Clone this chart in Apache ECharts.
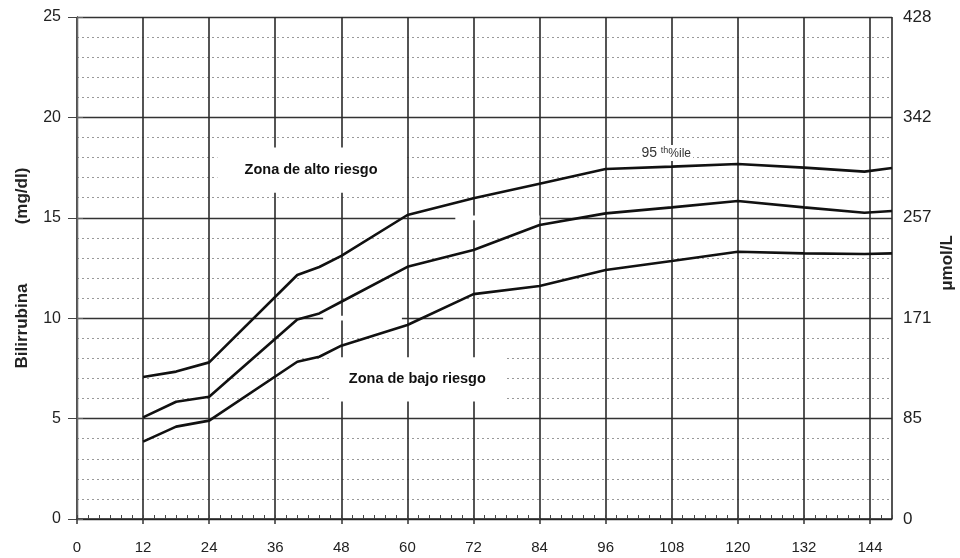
<!DOCTYPE html>
<html>
<head>
<meta charset="utf-8">
<script src="https://cdn.jsdelivr.net/npm/echarts@6/dist/echarts.min.js"></script>
<style>
  html, body { margin: 0; padding: 0; background: #fff; }
  #chart { width: 960px; height: 558px; }
</style>
</head>
<body>
<div id="chart"></div>
<script>
// Hours of life (x values of the curve vertices)
const hours = [12, 18, 24, 40, 44, 48, 60, 72, 84, 96, 108, 120, 132, 143, 148];
// Bilirubin (mg/dl) for the three percentile curves
const p95 = [7.07, 7.34, 7.8, 12.15, 12.55, 13.1, 15.14, 15.97, 16.7, 17.43, 17.55, 17.68, 17.5, 17.3, 17.48];
const p75 = [5.06, 5.84, 6.09, 9.94, 10.24, 10.82, 12.56, 13.4, 14.64, 15.22, 15.52, 15.84, 15.52, 15.25, 15.34];
const p40 = [3.85, 4.6, 4.9, 7.83, 8.08, 8.63, 9.66, 11.2, 11.6, 12.4, 12.85, 13.31, 13.23, 13.2, 13.23];
// Right-axis tick labels (µmol/L), one per left-axis major tick
const rightLabels = ['0', '85', '171', '257', '342', '428'];
// Text annotations
const zoneHigh = 'Zona de alto riesgo';
const zoneLow = 'Zona de bajo riesgo';
const pctLabel = '{a|95 }{b|th}{c|%ile}';
const yNameMain = 'Bilirrubina';
const yNameUnit = '(mg/dl)';
const yNameRight = 'μmol/L';

const FONT = 'Liberation Sans, Arial, sans-serif';
const chart = echarts.init(document.getElementById('chart'), null, { renderer: 'canvas' });

function lineSeries(vals, extra) {
  return Object.assign({
    type: 'line',
    xAxisIndex: 0,
    yAxisIndex: 0,
    data: hours.map((h, i) => [h, vals[i]]),
    symbol: 'none',
    silent: true,
    z: 5,
    lineStyle: { color: '#111', width: 2.6 }
  }, extra || {});
}

chart.setOption({
  animation: false,
  backgroundColor: '#fff',
  textStyle: { fontFamily: FONT },
  grid: { left: 77, right: 68, top: 17, bottom: 39 },
  xAxis: [
    {
      type: 'value', min: 0, max: 148, interval: 12, position: 'bottom',
      axisLine: { show: true, onZero: false, lineStyle: { color: '#222', width: 1.5 } },
      axisTick: { show: true, inside: false, length: 5, lineStyle: { color: '#333', width: 1.5 } },
      axisLabel: {
        showMaxLabel: false, margin: 21, fontSize: 15, color: '#222', fontFamily: FONT,
        formatter: v => (v % 12 === 0 ? String(v) : '')
      },
      splitLine: { show: true, lineStyle: { color: '#2a2a2a', width: 1.6 } }
    },
    {
      type: 'value', min: 0, max: 148, interval: 2, position: 'bottom',
      axisLine: { show: false, onZero: false },
      axisTick: { show: true, inside: true, length: 4, lineStyle: { color: '#444', width: 1 } },
      axisLabel: { show: false },
      splitLine: { show: false }
    }
  ],
  yAxis: [
    {
      type: 'value', min: 0, max: 25, interval: 5, position: 'left',
      axisLine: { show: true, lineStyle: { color: '#333', width: 1.3 } },
      axisTick: { show: true, length: 9, lineStyle: { color: '#444' } },
      axisLabel: { margin: 16, fontSize: 16, color: '#222', fontFamily: FONT },
      splitLine: { show: true, lineStyle: { color: '#333', width: 1.3 } },
      minorTick: { show: false, splitNumber: 5 },
      minorSplitLine: { show: true, lineStyle: { color: '#999', type: [2, 3], width: 1 } }
    },
    {
      type: 'value', min: 0, max: 25, interval: 5, position: 'right',
      axisLine: { show: true, lineStyle: { color: '#666', width: 1.2 } },
      axisTick: { show: true, length: 6, lineStyle: { color: '#666' } },
      axisLabel: {
        margin: 11, fontSize: 17, color: '#222', fontFamily: FONT,
        formatter: v => rightLabels[Math.round(v / 5)]
      },
      splitLine: { show: false }
    }
  ],
  graphic: [
    { type: 'text', x: 22, y: 326, rotation: Math.PI / 2,
      style: { text: yNameMain, font: 'bold 17px ' + FONT, fill: '#222', align: 'center', verticalAlign: 'middle' } },
    { type: 'text', x: 22, y: 196, rotation: Math.PI / 2,
      style: { text: yNameUnit, font: 'bold 17px ' + FONT, fill: '#222', align: 'center', verticalAlign: 'middle' } },
    { type: 'text', x: 947, y: 263, rotation: Math.PI / 2,
      style: { text: yNameRight, font: 'bold 17px ' + FONT, fill: '#222', align: 'center', verticalAlign: 'middle' } }
  ],
  series: [
    lineSeries(p95, {
      markArea: {
        silent: true,
        itemStyle: { color: '#fff' },
        label: { show: true, position: 'inside', fontSize: 14.5, fontWeight: 'bold', color: '#111', fontFamily: FONT },
        data: [
          [{ name: zoneHigh, xAxis: 25.5, yAxis: 16.25 }, { xAxis: 59.5, yAxis: 18.5 }],
          [{ name: zoneLow, xAxis: 46, yAxis: 5.85 }, { xAxis: 77.6, yAxis: 8.05 }],
          [{ name: '', xAxis: 68.7, yAxis: 14.88 }, { xAxis: 84, yAxis: 15.12 }],
          [{ name: '', xAxis: 44.7, yAxis: 9.88 }, { xAxis: 59, yAxis: 10.12 }]
        ]
      },
      markPoint: {
        silent: true,
        symbol: 'rect',
        symbolSize: 1,
        itemStyle: { color: 'rgba(0,0,0,0)' },
        label: {
          show: true, position: 'inside', formatter: pctLabel,
          backgroundColor: '#fff', padding: [1, 2],
          rich: {
            a: { fontSize: 14, color: '#333', fontFamily: FONT, verticalAlign: 'bottom' },
            b: { fontSize: 9, color: '#333', fontFamily: FONT, verticalAlign: 'top' },
            c: { fontSize: 12, color: '#333', fontFamily: FONT, verticalAlign: 'bottom' }
          }
        },
        data: [{ coord: [107, 18.23] }]
      }
    }),
    lineSeries(p75),
    lineSeries(p40)
  ]
});
</script>
</body>
</html>
